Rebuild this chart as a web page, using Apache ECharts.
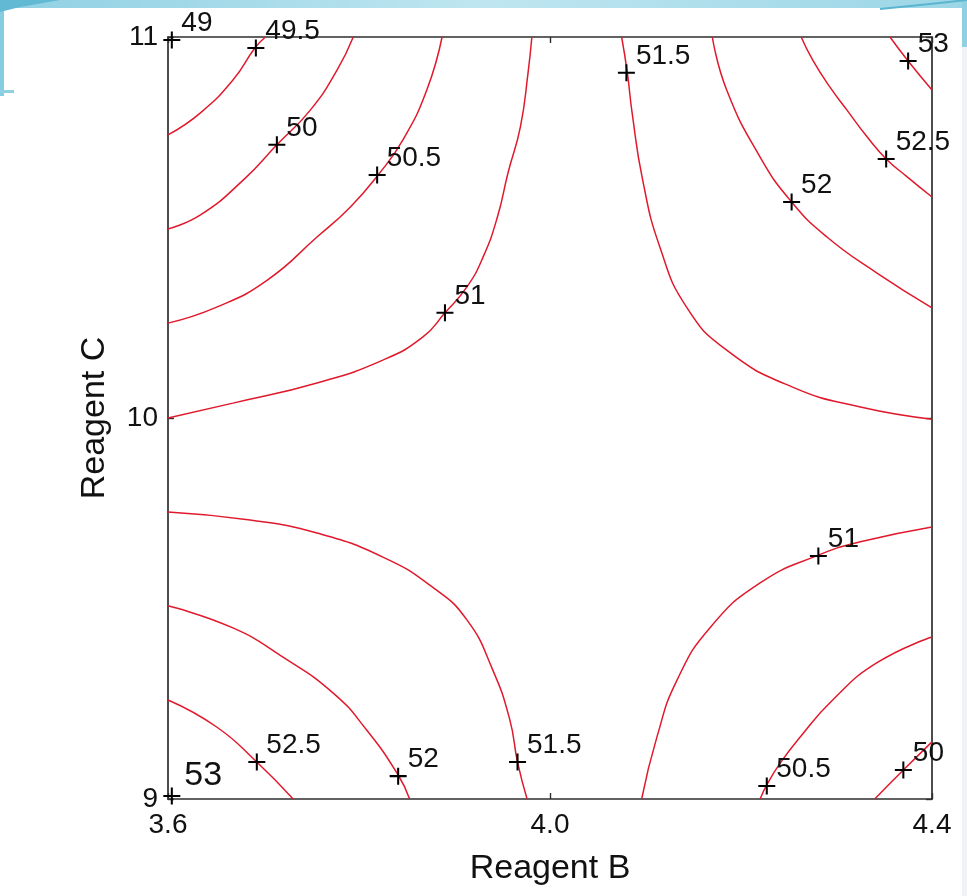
<!DOCTYPE html>
<html>
<head>
<meta charset="utf-8">
<title>Reagent B / Reagent C contour plot</title>
<script src="https://cdn.jsdelivr.net/npm/echarts@6/dist/echarts.min.js"></script>
<style>
  html, body { margin: 0; padding: 0; background: #ffffff; }
  #chart { width: 967px; height: 896px; }
</style>
</head>
<body>
<div id="chart"></div>
<script>
// Axis ranges and tick labels
const xTicks = [3.6, 4.0, 4.4];
const yTicks = [9, 10, 11];

// Contour lines, points as [Reagent B, Reagent C]
// upper-left group (response falls toward the corner)
const c49_5 = [[3.600, 10.743], [3.634, 10.801], [3.668, 10.887], [3.691, 10.971], [3.702, 11.000]];
const c50 = [[3.600, 10.496], [3.634, 10.533], [3.679, 10.625], [3.714, 10.717], [3.749, 10.808], [3.777, 10.913], [3.794, 11.000]];
const c50_5 = [[3.600, 10.249], [3.651, 10.291], [3.704, 10.362], [3.756, 10.475], [3.791, 10.554], [3.820, 10.638], [3.846, 10.730], [3.871, 10.861], [3.887, 11.000]];
const c51_top = [[3.600, 10.000], [3.668, 10.039], [3.756, 10.092], [3.825, 10.152], [3.867, 10.213], [3.890, 10.276], [3.913, 10.344], [3.930, 10.423], [3.945, 10.528], [3.956, 10.643], [3.969, 10.764], [3.977, 10.906], [3.981, 11.000]];

// upper-right group (response rises toward the corner)
const c51_5_top = [[4.075, 11.000], [4.081, 10.906], [4.086, 10.801], [4.097, 10.625], [4.115, 10.449], [4.143, 10.291], [4.185, 10.178], [4.254, 10.081], [4.325, 10.029], [4.400, 9.997]];
const c52_top = [[4.170, 11.000], [4.185, 10.861], [4.220, 10.685], [4.253, 10.567], [4.290, 10.475], [4.342, 10.381], [4.400, 10.289]];
const c52_5_top = [[4.263, 11.000], [4.275, 10.940], [4.293, 10.869], [4.311, 10.808], [4.332, 10.738], [4.352, 10.680], [4.374, 10.633], [4.400, 10.580]];
const c53_top = [[4.356, 11.000], [4.375, 10.937], [4.400, 10.861]];

// lower-right group
const c51_bottom = [[4.400, 9.714], [4.325, 9.675], [4.281, 9.640], [4.220, 9.567], [4.168, 9.451], [4.133, 9.312], [4.112, 9.163], [4.096, 9.000]];
const c50_5_bottom = [[4.400, 9.425], [4.342, 9.357], [4.296, 9.260], [4.262, 9.163], [4.241, 9.094], [4.227, 9.037], [4.220, 9.000]];
const c50_bottom = [[4.400, 9.150], [4.370, 9.076], [4.340, 9.000]];

// lower-left group
const c51_5_bottom = [[3.600, 9.753], [3.686, 9.732], [3.756, 9.698], [3.825, 9.635], [3.877, 9.556], [3.913, 9.470], [3.940, 9.339], [3.958, 9.207], [3.966, 9.097], [3.976, 9.000]];
const c52_bottom = [[3.600, 9.507], [3.668, 9.449], [3.720, 9.373], [3.773, 9.278], [3.808, 9.181], [3.841, 9.063], [3.853, 9.000]];
const c52_5_bottom = [[3.600, 9.260], [3.651, 9.189], [3.693, 9.097], [3.731, 9.000]];

const contourLines = [
  c49_5, c50, c50_5, c51_top,
  c51_5_top, c52_top, c52_5_top, c53_top,
  c51_bottom, c50_5_bottom, c50_bottom,
  c51_5_bottom, c52_bottom, c52_5_bottom
];

// Level markers: [Reagent B, Reagent C, level]
const levelMarks = [
  [3.604, 10.992, '49'],
  [3.692, 10.971, '49.5'],
  [3.714, 10.717, '50'],
  [3.819, 10.638, '50.5'],
  [3.890, 10.276, '51'],
  [4.080, 10.906, '51.5'],
  [4.253, 10.567, '52'],
  [4.352, 10.680, '52.5'],
  [4.375, 10.937, '53'],
  [4.281, 9.638, '51'],
  [4.227, 9.034, '50.5'],
  [4.370, 9.076, '50'],
  [3.966, 9.097, '51.5'],
  [3.841, 9.060, '52'],
  [3.693, 9.097, '52.5']
];
// the corner marker carries a larger label
const cornerMark = [3.604, 9.008, '53'];

const FONT = '"Liberation Sans", Arial, Helvetica, sans-serif';
const TEXT = '#111111';
const AXIS = '#2e2e2e';
const RED = '#e01a2c';
const PLUS = 'path://M0,4.4H10V5.6H0Z M4.4,0H5.6V10H4.4Z';

const chart = echarts.init(document.getElementById('chart'), null, { renderer: 'canvas' });

const axisCommon = {
  type: 'value',
  splitLine: { show: false },
  axisLine: { show: true, onZero: false, lineStyle: { color: AXIS, width: 1.7 } },
  axisTick: { show: true, inside: true, length: 6, lineStyle: { color: AXIS, width: 1.4 } }
};

const lineSeries = contourLines.map(pts => ({
  type: 'line',
  data: pts,
  smooth: 0.5,
  showSymbol: false,
  symbol: 'none',
  silent: true,
  z: 2,
  lineStyle: { color: RED, width: 1.5 }
}));

const toMarkData = arr => arr.map(m => ({ name: m[2], value: [m[0], m[1]] }));

const option = {
  backgroundColor: '#ffffff',
  animation: false,
  grid: { left: 168, right: 35, top: 37, bottom: 97, containLabel: false },
  graphic: [
    // slide frame decoration
    { type: 'rect', shape: { x: 0, y: 0, width: 967, height: 8 }, style: { fill: { type: 'linear', x: 0, y: 0, x2: 1, y2: 0, colorStops: [{ offset: 0, color: '#8fd0e3' }, { offset: 0.5, color: '#bfe6f0' }, { offset: 1, color: '#9bd6e6' }] } }, z: -10 },
    { type: 'rect', shape: { x: 0, y: 0, width: 4, height: 96 }, style: { fill: '#86cde1' }, z: -10 },
    { type: 'rect', shape: { x: 0, y: 90, width: 14, height: 3 }, style: { fill: '#8fd0e3' }, z: -10 },
    { type: 'polygon', shape: { points: [[0, 0], [60, 0], [20, 7], [0, 12]] }, style: { fill: '#62b9d4' }, z: -9 },
    { type: 'rect', shape: { x: 962, y: 0, width: 5, height: 47 }, style: { fill: '#8fd0e3' }, z: -10 },
    { type: 'rect', shape: { x: 962, y: 47, width: 5, height: 849 }, style: { fill: '#f0f3f5' }, z: -10 },
    { type: 'polyline', shape: { points: [[880, 9], [930, 4], [967, 0]] }, style: { stroke: '#5bb5d0', lineWidth: 2, fill: null }, z: -9 }
  ],
  xAxis: [
    Object.assign({}, axisCommon, {
      position: 'bottom',
      min: 3.6, max: 4.4, interval: 0.4,
      axisLabel: {
        show: true, margin: 12, fontSize: 28, color: TEXT, fontFamily: FONT,
        showMinLabel: true, showMaxLabel: true,
        formatter: v => {
          const hit = xTicks.find(t => Math.abs(t - v) < 1e-6);
          return hit === undefined ? '' : hit.toFixed(1);
        }
      },
      name: 'Reagent B', nameLocation: 'middle', nameGap: 53,
      nameTextStyle: { fontSize: 34, color: TEXT, fontFamily: FONT }
    }),
    Object.assign({}, axisCommon, {
      position: 'top',
      min: 3.6, max: 4.4, interval: 0.4,
      axisLabel: { show: false }
    })
  ],
  yAxis: [
    Object.assign({}, axisCommon, {
      position: 'left',
      min: 9, max: 11, interval: 1,
      axisLabel: {
        show: true, margin: 10, fontSize: 28, color: TEXT, fontFamily: FONT,
        showMinLabel: true, showMaxLabel: true,
        formatter: v => {
          const hit = yTicks.find(t => Math.abs(t - v) < 1e-6);
          return hit === undefined ? '' : String(hit);
        }
      },
      name: 'Reagent C', nameLocation: 'middle', nameGap: 56, nameRotate: 90,
      nameTextStyle: { fontSize: 34, color: TEXT, fontFamily: FONT }
    }),
    Object.assign({}, axisCommon, {
      position: 'right',
      min: 9, max: 11, interval: 1,
      axisLabel: { show: false }
    })
  ],
  series: lineSeries.concat([
    {
      type: 'scatter',
      data: toMarkData(levelMarks),
      symbol: PLUS,
      symbolSize: 17,
      clip: false,
      silent: true,
      z: 5,
      itemStyle: { color: '#000000', opacity: 1 },
      label: {
        show: true, position: 'right', distance: 1, offset: [0, -17],
        formatter: '{b}', fontSize: 28, color: TEXT, fontFamily: FONT
      }
    },
    {
      type: 'scatter',
      data: toMarkData([cornerMark]),
      symbol: PLUS,
      symbolSize: 17,
      clip: false,
      silent: true,
      z: 5,
      itemStyle: { color: '#000000', opacity: 1 },
      label: {
        show: true, position: 'right', distance: 4, offset: [0, -20],
        formatter: '{b}', fontSize: 34, color: TEXT, fontFamily: FONT
      }
    }
  ])
};

chart.setOption(option);
</script>
</body>
</html>
